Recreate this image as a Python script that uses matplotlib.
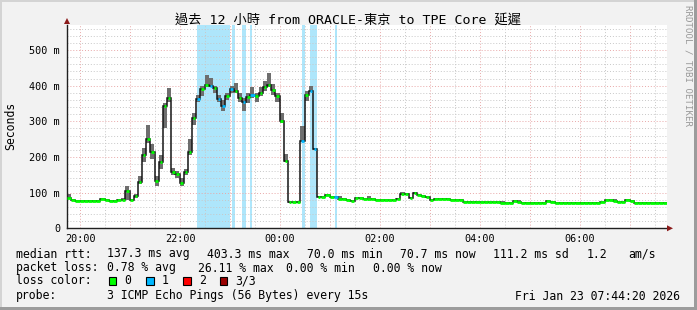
import matplotlib
matplotlib.use('Agg')
import matplotlib.pyplot as plt
from matplotlib.patches import Rectangle, Polygon
import numpy as np

# ---------------- data ----------------
START_HOUR = 19 + 44 / 60 + 20 / 3600      # 19:44:20
SPAN_HOURS = 12
STEP_MIN = 5

median_ms = [85, 80, 77, 76, 77, 76, 76, 77, 81, 78,
             77, 76, 78, 80, 104, 78, 90, 130, 205, 250,
             214, 132, 186, 343, 366, 159, 152, 128, 157, 215,
             309, 362, 390, 403, 400, 392, 362, 343, 372, 390,
             386, 365, 355, 369, 375, 370, 380, 395, 403, 388,
             371, 302, 190, 73, 73, 73, 245, 375, 386, 222,
             89, 89, 92, 89, 87, 83, 83, 80, 77, 85,
             84, 83, 82, 82, 78, 78, 78, 78, 78, 83,
             96, 96, 86, 99, 94, 90, 87, 80, 82, 82,
             82, 82, 80, 80, 80, 75, 75, 75, 74, 73,
             73, 73, 73, 73, 72, 72, 72, 77, 75, 72,
             72, 72, 72, 72, 72, 76, 74, 72, 72, 72,
             72, 72, 72, 72, 72, 72, 72, 72, 73, 78,
             78, 76, 74, 74, 78, 77, 72, 72, 72, 71,
             71, 71, 71, 71]

smoke_hi_ms = [97, 83, 80, 79, 80, 79, 79, 80, 85, 81,
               80, 79, 81, 84, 118, 82, 95, 148, 225, 290,
               235, 147, 205, 350, 392, 170, 160, 140, 165, 250,
               323, 375, 400, 430, 420, 400, 375, 360, 380, 398,
               408, 380, 365, 378, 395, 380, 395, 412, 435, 405,
               380, 323, 209, 75, 75, 76, 286, 386, 398, 226,
               91, 91, 97, 91, 89, 90, 85, 82, 79, 87,
               86, 85, 90, 84, 80, 80, 80, 80, 80, 86,
               101, 99, 88, 102, 96, 92, 89, 82, 84, 84,
               84, 84, 82, 82, 82, 77, 77, 77, 76, 75,
               75, 75, 75, 75, 76, 74, 74, 80, 80, 74,
               74, 74, 74, 74, 74, 78, 76, 74, 75, 74,
               74, 74, 74, 74, 74, 74, 74, 74, 75, 80,
               80, 81, 76, 76, 81, 79, 74, 74, 74, 73,
               73, 73, 73, 75]

smoke_lo_ms = [82, 78, 75, 74, 75, 74, 74, 75, 79, 76,
               75, 74, 76, 78, 80, 76, 86, 125, 185, 240,
               195, 120, 166, 280, 355, 150, 140, 120, 150, 205,
               289, 355, 372, 395, 395, 380, 355, 330, 360, 380,
               380, 355, 330, 350, 365, 355, 370, 385, 395, 375,
               355, 295, 186, 72, 72, 72, 245, 358, 384, 220,
               88, 88, 90, 88, 86, 82, 82, 79, 76, 84,
               83, 82, 81, 81, 77, 77, 77, 77, 77, 82,
               94, 94, 85, 97, 93, 89, 86, 79, 81, 81,
               81, 81, 79, 79, 79, 74, 74, 74, 73, 72,
               72, 72, 72, 72, 71, 71, 71, 76, 74, 71,
               71, 71, 71, 71, 71, 75, 73, 71, 71, 71,
               71, 71, 71, 71, 71, 71, 71, 71, 72, 77,
               77, 75, 73, 73, 77, 76, 71, 71, 71, 70,
               70, 70, 70, 70]

loss_flag = [0, 0, 0, 0, 0, 0, 0, 0, 0, 0,
             0, 0, 0, 0, 0, 0, 0, 0, 0, 0,
             0, 0, 0, 0, 0, 0, 0, 0, 0, 0,
             0, 1, 0, 0, 1, 0, 1, 1, 0, 1,
             0, 0, 1, 0, 1, 0, 0, 0, 0, 0,
             0, 0, 0, 0, 0, 0, 1, 0, 1, 1,
             0, 0, 0, 0, 1, 0, 0, 0, 0, 0,
             0, 0, 0, 0, 0, 0, 0, 0, 0, 0,
             0, 0, 0, 0, 0, 0, 0, 0, 0, 0,
             0, 0, 0, 0, 0, 0, 0, 0, 0, 0,
             0, 0, 0, 0, 0, 0, 0, 0, 0, 0,
             0, 0, 0, 0, 0, 0, 0, 0, 0, 0,
             0, 0, 0, 0, 0, 0, 0, 0, 0, 0,
             0, 0, 0, 0, 0, 0, 0, 0, 0, 0,
             0, 0, 0, 0]

# loss background periods (hours of day, >24 = next day)
loss_band_start = [22.333, 23.039, 23.243, 23.399, 24.439, 24.599, 25.099]
loss_band_end = [23.000, 23.099, 23.309, 23.445, 24.499, 24.733, 25.139]

x_tick_hours = [20, 22, 24, 26, 28, 30]
x_tick_labels = ['20:00', '22:00', '00:00', '02:00', '04:00', '06:00']
y_tick_ms = [0, 100, 200, 300, 400, 500]
y_tick_labels = ['0', '100 m', '200 m', '300 m', '400 m', '500 m']
Y_MAX_MS = 570

title = '過去 12 小時 from ORACLE-東京 to TPE Core 延遲'
rtt_label = 'median rtt:'
rtt_values = ['137.3 ms avg', '403.3 ms max', '70.0 ms min', '70.7 ms now', '111.2 ms sd', '1.2', 'am/s']
loss_label = 'packet loss:'
loss_values = ['0.78 % avg', '26.11 % max', '0.00 % min', '0.00 % now']
color_label = 'loss color:'
loss_bins = ['0', '1', '2', '3/3']
probe_label = 'probe:'
probe_text = '3 ICMP Echo Pings (56 Bytes) every 15s'
stamp = 'Fri Jan 23 07:44:20 2026'

# ---------------- style ----------------
W, H = 697, 310
BG = '#F2F2F2'
SMOKE = '#6E6E6E'
LOSS_COLORS = ['#00FF00', '#00B8FF', '#FF0000', '#990000']
BAND = '#AEE6FB'
MONO = 'DejaVu Sans Mono'

fig = plt.figure(figsize=(W / 100, H / 100), dpi=100, facecolor=BG)


def fx(x):
    return x / W


def fy(y):
    return 1 - y / H


# border (3D look)
fig.patches.append(Rectangle((0, fy(2)), 1, 2 / H, transform=fig.transFigure, color='#D4D4D4', lw=0))
fig.patches.append(Rectangle((0, 0), 2 / W, 1, transform=fig.transFigure, color='#D4D4D4', lw=0))
fig.patches.append(Rectangle((0, 0), 1, 3 / H, transform=fig.transFigure, color='#9C9C9C', lw=0))
fig.patches.append(Rectangle((fx(694), 0), 3 / W, 1, transform=fig.transFigure, color='#9C9C9C', lw=0))

X0, X1, Y0, Y1 = 67, 667, 228.3, 25.0
ax = fig.add_axes([fx(X0), fy(Y0), (X1 - X0) / W, (Y0 - Y1) / H])
ax.set_facecolor('white')

t0 = START_HOUR
t1 = START_HOUR + SPAN_HOURS
n = len(median_ms)
step_h = STEP_MIN / 60
edges = t0 + np.arange(n + 1) * step_h
lefts = edges[:-1]
med = np.array(median_ms, float)
lo = np.array(smoke_lo_ms, float)
hi = np.array(smoke_hi_ms, float)

# loss background bands
for s, e in zip(loss_band_start, loss_band_end):
    ax.axvspan(s, e, color=BAND, lw=0, zorder=0.3)

# grid
for h in np.arange(20, 32, 0.5):
    major = abs(h - round(h)) < 1e-6
    ax.axvline(h, color='#E8A8A8' if major else '#C8C8C8', lw=0.7,
               ls=(0, (1, 2)), zorder=0.6)
for v in range(20, Y_MAX_MS, 20):
    major = v % 100 == 0
    ax.axhline(v, color='#E8A8A8' if major else '#C8C8C8', lw=0.7,
               ls=(0, (1, 2)), zorder=0.6)

# smoke
ax.bar(lefts, hi - lo, bottom=lo, width=step_h, align='edge',
       color=SMOKE, lw=0, zorder=2)

# median black step line
ax.stairs(med, edges, baseline=None, color='#151515', lw=1.1, zorder=3)

# coloured median marks
for i in range(n):
    prev_d = abs(med[i] - med[i - 1]) if i > 0 else 0
    next_d = abs(med[i + 1] - med[i]) if i < n - 1 else 0
    flat = prev_d <= 6 and next_d <= 6
    if flat:
        a, b = edges[i], edges[i + 1]
    else:
        c = lefts[i] + 0.5 * step_h
        a, b = c - 0.3 * step_h, c + 0.3 * step_h
    ax.plot([a, b], [med[i], med[i]], color=LOSS_COLORS[loss_flag[i]],
            lw=2.0, solid_capstyle='butt', zorder=4)

ax.set_xlim(t0, t1)
ax.set_ylim(0, Y_MAX_MS)
for sp in ['top', 'right']:
    ax.spines[sp].set_visible(False)
for sp in ['left', 'bottom']:
    ax.spines[sp].set_color('#202020')
    ax.spines[sp].set_linewidth(1.0)
ax.set_xticks(x_tick_hours)
ax.set_xticklabels(x_tick_labels, fontfamily=MONO, fontsize=7.3)
ax.set_yticks(y_tick_ms)
ax.set_yticklabels(y_tick_labels, fontfamily=MONO, fontsize=7.3)
ax.tick_params(axis='both', length=0, pad=5)
ax.tick_params(axis='x', pad=4)

# arrows
fig.patches.append(Polygon([[fx(64), fy(24)], [fx(70), fy(24)], [fx(67), fy(18)]],
                           closed=True, transform=fig.transFigure, color='#8B1A1A', lw=0))
fig.patches.append(Polygon([[fx(667), fy(225.3)], [fx(667), fy(231.3)], [fx(673), fy(228.3)]],
                           closed=True, transform=fig.transFigure, color='#8B1A1A', lw=0))

# titles
fig.text(fx(348), fy(20), title, ha='center', va='center', fontsize=9.5,
         family=[MONO, 'Noto Sans CJK TC'])
fig.text(fx(11), fy(126), 'Seconds', rotation=90, ha='center', va='center',
         fontsize=8.3, family=MONO)
fig.text(fx(688), fy(5), 'RRDTOOL / TOBI OETIKER', rotation=270, ha='center', va='top',
         fontsize=6.6, family=MONO, color='#9A9A9A')

# legend lines
LF = 8.3
fig.text(fx(16), fy(254), rtt_label, ha='left', va='center', fontsize=LF, family=MONO)
for x, s in zip([107, 207, 307, 400, 493, 587, 628], rtt_values):
    fig.text(fx(x), fy(254), s, ha='left', va='center', fontsize=LF, family=MONO)
fig.text(fx(16), fy(268), loss_label, ha='left', va='center', fontsize=LF, family=MONO)
for x, s in zip([107, 198, 286, 373], loss_values):
    fig.text(fx(x), fy(268), s, ha='left', va='center', fontsize=LF, family=MONO)
fig.text(fx(16), fy(281), color_label, ha='left', va='center', fontsize=LF, family=MONO)
for k, (bx, s) in enumerate(zip([108.5, 146, 183, 219.5], loss_bins)):
    fig.patches.append(Rectangle((fx(bx), fy(284.5)), 7.5 / W, 7.5 / H,
                                 transform=fig.transFigure, facecolor=LOSS_COLORS[k],
                                 edgecolor='black', lw=0.8))
    fig.text(fx(bx + 16), fy(281), s, ha='left', va='center', fontsize=LF, family=MONO)
fig.text(fx(16), fy(296), probe_label, ha='left', va='center', fontsize=LF, family=MONO)
fig.text(fx(107), fy(296), probe_text, ha='left', va='center', fontsize=LF, family=MONO)
fig.text(fx(680), fy(296), stamp, ha='right', va='center', fontsize=LF, family=MONO)

fig.savefig('out.png', dpi=100, facecolor=BG)
